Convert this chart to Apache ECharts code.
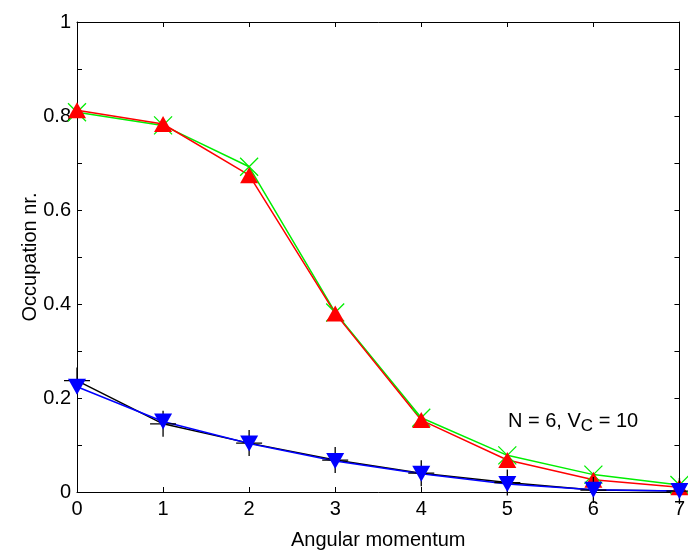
<!DOCTYPE html>
<html>
<head>
<meta charset="utf-8">
<script src="https://cdn.jsdelivr.net/npm/echarts@6/dist/echarts.min.js"></script>
<style>
  html, body { margin: 0; padding: 0; background: #fff; }
  #chart { width: 688px; height: 555px; }
</style>
</head>
<body>
<div id="chart"></div>
<script>
// Angular momentum channels
var momenta = [0, 1, 2, 3, 4, 5, 6, 7];

// Occupation numbers per channel
var greenX   = [0.808, 0.780, 0.692, 0.382, 0.158, 0.078, 0.037, 0.015];
var redUp    = [0.812, 0.783, 0.674, 0.380, 0.153, 0.068, 0.026, 0.010];
var blackPlus = [0.237, 0.145, 0.104, 0.068, 0.040, 0.020, 0.004, 0.002];
var blueDown = [0.224, 0.150, 0.103, 0.066, 0.039, 0.017, 0.005, 0.002];

// Tick labels
var xTickLabels = ['0', '1', '2', '3', '4', '5', '6', '7'];
var yTickValues = [0, 0.2, 0.4, 0.6, 0.8, 1];
var yTickLabels = ['0', '0.2', '0.4', '0.6', '0.8', '1'];

var FONT = 'Liberation Sans';
var FS = 20;

function pairs(ys) {
  return momenta.map(function (x, i) { return [x, ys[i]]; });
}

function yLabel(v) {
  for (var i = 0; i < yTickValues.length; i++) {
    if (Math.abs(v - yTickValues[i]) < 1e-6) return yTickLabels[i];
  }
  return '';
}

var tickStyle = { show: true, inside: true, length: 5, lineStyle: { color: '#000', width: 1 } };
var lineAxis = { show: true, onZero: false, lineStyle: { color: '#000', width: 1 } };

var chart = echarts.init(document.getElementById('chart'), null, { renderer: 'canvas' });

chart.setOption({
  animation: false,
  backgroundColor: '#fff',
  grid: { left: 77, right: 6, top: 22, bottom: 56, containLabel: false },
  xAxis: [
    {
      type: 'value', position: 'bottom', min: 0, max: 7, interval: 1,
      name: 'Angular momentum', nameLocation: 'middle', nameGap: 38, nameMoveOverlap: false,
      nameTextStyle: { fontFamily: FONT, fontSize: FS, color: '#000' },
      axisLine: lineAxis, axisTick: tickStyle, splitLine: { show: false },
      axisLabel: {
        fontFamily: FONT, fontSize: FS, color: '#000', margin: 7,
        formatter: function (v) { return xTickLabels[Math.round(v)] || ''; }
      }
    },
    {
      type: 'value', position: 'top', min: 0, max: 7, interval: 1,
      axisLine: lineAxis, axisTick: tickStyle, splitLine: { show: false },
      axisLabel: { show: false }
    }
  ],
  yAxis: [
    {
      type: 'value', position: 'left', min: 0, max: 1, interval: 0.1,
      name: 'Occupation nr.', nameLocation: 'middle', nameGap: 37, nameMoveOverlap: false,
      nameTextStyle: { fontFamily: FONT, fontSize: FS, color: '#000' },
      axisLine: lineAxis, axisTick: tickStyle, splitLine: { show: false },
      axisLabel: {
        fontFamily: FONT, fontSize: FS, color: '#000', margin: 6,
        formatter: yLabel
      }
    },
    {
      type: 'value', position: 'right', min: 0, max: 1, interval: 0.1,
      axisLine: lineAxis, axisTick: tickStyle, splitLine: { show: false },
      axisLabel: { show: false }
    }
  ],
  graphic: [
    {
      type: 'text', left: 508, top: 404, z: 100,
      style: {
        text: '{a|N = 6, V}{s|C}{a| = 10}',
        rich: {
          a: { fontFamily: FONT, fontSize: FS, color: '#000', lineHeight: 24, verticalAlign: 'top' },
          s: { fontFamily: FONT, fontSize: 17, color: '#000', lineHeight: 18, padding: [14, 0, 0, 0], verticalAlign: 'bottom' }
        }
      }
    }
  ],
  series: [
    {
      type: 'line', data: pairs(greenX),
      symbol: 'path://M0,0L10,10M10,0L0,10', symbolSize: 18,
      lineStyle: { color: '#00ee00', width: 1.5 },
      itemStyle: { color: 'rgba(0,0,0,0)', borderColor: '#00ee00', borderWidth: 1.3 }
    },
    {
      type: 'line', data: pairs(redUp),
      symbol: 'triangle', symbolSize: [18, 16],
      lineStyle: { color: '#ff0000', width: 1.5 },
      itemStyle: { color: '#ff0000', borderWidth: 0 }
    },
    {
      type: 'line', data: pairs(blackPlus),
      symbol: 'path://M5,0L5,10M0,5L10,5', symbolSize: 26,
      lineStyle: { color: '#000', width: 1.5 },
      itemStyle: { color: 'rgba(0,0,0,0)', borderColor: '#000', borderWidth: 1.3 }
    },
    {
      type: 'line', data: pairs(blueDown),
      symbol: 'triangle', symbolRotate: 180, symbolSize: [18, 16],
      lineStyle: { color: '#0000ff', width: 1.5 },
      itemStyle: { color: '#0000ff', borderWidth: 0 }
    }
  ]
});
</script>
</body>
</html>
